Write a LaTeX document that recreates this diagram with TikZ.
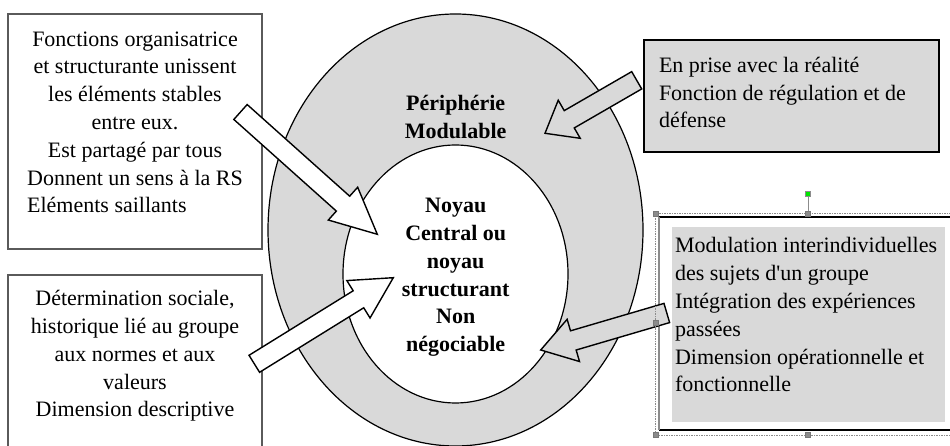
\documentclass[tikz,border=0pt]{standalone}
\usepackage{fontspec}
\setmainfont{Liberation Serif}
\newfontfamily\aposfont{Liberation Serif}[Ligatures=TeXOff]
\usepackage{calc}
\usetikzlibrary{shapes.geometric,calc}

% block arrow: tail, tip, head length, fill colour
\newcommand{\blockarrow}[4]{%
  \coordinate (hb) at ($(#2)!#3pt!(#1)$);
  \path[arrowline,fill=#4] ($(#1)!10pt!90:(#2)$) -- ($(hb)!10pt!90:(#2)$) --
	($(hb)!22pt!90:(#2)$) -- (#2) -- ($(hb)!22pt!-90:(#2)$) --
	($(hb)!10pt!-90:(#2)$) -- ($(#1)!10pt!-90:(#2)$) -- cycle;
}

\begin{document}
\begin{tikzpicture}[x=1pt,y=1pt,
  txt/.style={inner sep=0pt,outer sep=0pt,anchor=base,font=\fontsize{22}{27.8}\selectfont},
  txtl/.style={txt,anchor=base west,align=left},
  txtc/.style={txt,align=center},
  whitebox/.style={draw=boxColor,line width=1.4pt,fill=white,inner sep=0pt,outer sep=0pt},
  ring/.style={ellipse,draw=black,line width=1.2pt,inner sep=0pt,outer sep=0pt},
  arrowline/.style={draw=black,line width=1.4pt,line join=miter},
  handle/.style={draw=handleDraw,fill=handleFill,minimum size=5pt,inner sep=0pt},
  selline/.style={draw=handleFill,line width=0.5pt,dash pattern=on 1.5pt off 1pt}]
\definecolor{ringColor}{RGB}{217,217,217}
\definecolor{boxColor}{RGB}{90,90,90}
\definecolor{handleFill}{RGB}{140,140,140}
\definecolor{handleDraw}{RGB}{120,120,120}
\definecolor{greenFill}{RGB}{0,230,0}
\path[use as bounding box,fill=white] (0,0) rectangle (950,446);
\clip (0,0) rectangle (950,446);

% left boxes
\node[whitebox,minimum width=254pt,minimum height=235pt] (fonc) at (135,314.5) {};
\node[whitebox,minimum width=254pt,minimum height=200pt] (deter) at (135,71) {};

% periphery and core
\node[ring,fill=ringColor,minimum width=375pt,minimum height=432pt] (peri) at (455.5,216) {};
\node[ring,fill=white,minimum width=225pt,minimum height=258pt] (noyau) at (455.5,172) {};

% top right box
\node[draw=black,line width=2pt,fill=ringColor,minimum width=295pt,minimum height=112pt,inner sep=0pt] (prise) at (791.5,350) {};

% bottom right box
\node[fill=white,minimum width=311pt,minimum height=212.7pt,inner sep=0pt,outer sep=0pt] (modul) at (814.5,122.35) {};
\draw[black,line width=2pt] (modul.north west) -- (modul.north east);
\draw[black,line width=2pt] (modul.south west) -- (modul.south east);
\draw[handleFill,line width=1.6pt] (modul.north west) -- (modul.south west);
\node[fill=ringColor,minimum width=273.6pt,minimum height=194.4pt,inner sep=0pt] (modulin) at (808.5,121.5) {};

% texts (base = last line)
\node[txtc] (foncTxt) at (135,233) {Fonctions organisatrice\\et structurante unissent\\les éléments stables\\entre eux.\\Est partagé par tous\\Donnent un sens à la RS\\\makebox[\widthof{Donnent un sens à la RS}][l]{Eléments saillants}};
\node[txtc] (deterTxt) at (135,29) {Détermination sociale,\\historique lié au groupe\\aux normes et aux\\valeurs\\Dimension descriptive};
\node[txtc,font=\fontsize{22}{27.8}\selectfont\bfseries] (periTxt) at (455.7,307.7) {Périphérie\\Modulable};
\node[txtc,font=\fontsize{22}{27.8}\selectfont\bfseries] (noyauTxt) at (455.7,94.3) {Noyau\\Central ou\\noyau\\structurant\\Non\\négociable};
\node[txtl] (priseTxt) at (659,318) {En prise avec la réalité\\Fonction de régulation et de\\défense};
\node[txtl] (modulTxt) at (675,54) {Modulation interindividuelles\\des sujets d{\aposfont'}un groupe\\Intégration des expériences\\passées\\Dimension opérationnelle et\\fonctionnelle};

% arrows
\coordinate (foncTail) at (240.5,334);
\coordinate (foncTip) at (377.3,211.7);
\coordinate (deterTail) at (254.3,82.2);
\coordinate (deterTip) at (393.3,168.3);
\coordinate (priseTail) at (636.7,365.7);
\coordinate (priseTip) at (545,312.7);
\coordinate (modulTail) at (666.8,133);
\coordinate (modulTip) at (540.7,96);
\blockarrow{foncTail}{foncTip}{46}{white}
\blockarrow{deterTail}{deterTip}{41}{white}
\blockarrow{priseTail}{priseTip}{28}{ringColor}
\blockarrow{modulTail}{modulTip}{34}{ringColor}

% selection frame
\draw[selline] (655.7,11) rectangle (960,232.7);
\node[draw=handleFill,fill=greenFill,minimum size=5pt,inner sep=0pt] (rot) at (808,252) {};
\draw[handleFill,line width=0.8pt] (rot) -- (808,232.7);
\foreach \hx/\hy [count=\i] in {655.7/232.7,808/232.7,655.7/123,655.7/11,808/11}
  \node[handle] (h\i) at (\hx,\hy) {};
\end{tikzpicture}
\end{document}
